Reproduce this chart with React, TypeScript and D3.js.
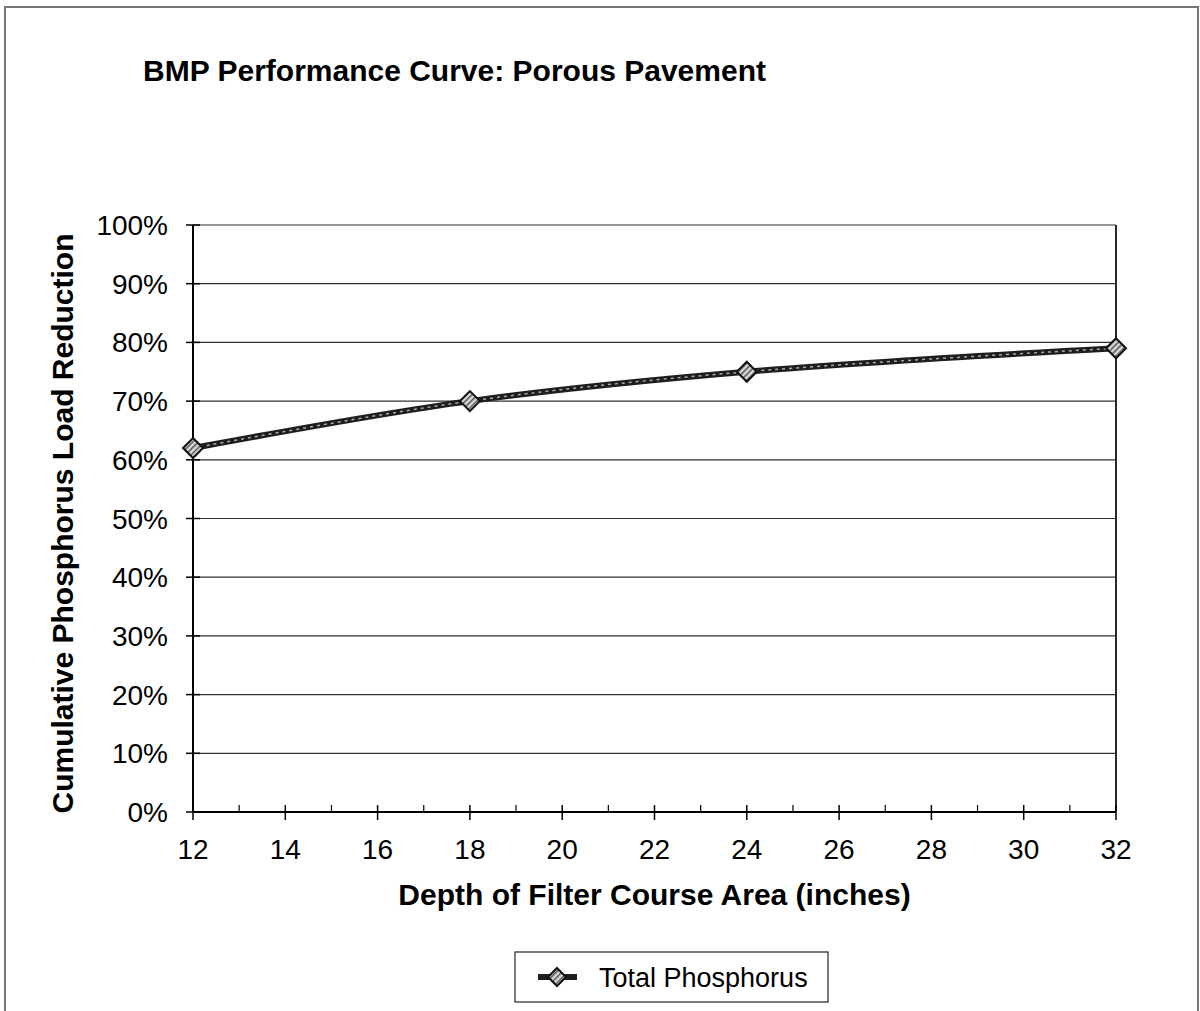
import { scaleLinear, line as d3Line, curveCatmullRom, range } from "d3";

const depths = [12, 18, 24, 32];
const phosphorus = [0.62, 0.7, 0.75, 0.79];
const xTicks = [12, 14, 16, 18, 20, 22, 24, 26, 28, 30, 32];
const yTicks = [0, 0.1, 0.2, 0.3, 0.4, 0.5, 0.6, 0.7, 0.8, 0.9, 1.0];

const title = "BMP Performance Curve: Porous Pavement";
const xTitle = "Depth of Filter Course Area (inches)";
const yTitle = "Cumulative Phosphorus Load Reduction";
const seriesName = "Total Phosphorus";

const W = 1200;
const H = 1011;
const left = 193;
const right = 1116;
const top = 225;
const bottom = 812;

const font = "Arial, 'Liberation Sans', Helvetica, sans-serif";

function Diamond({ cx, cy, r = 10 }: { cx: number; cy: number; r?: number }) {
  const d = `M${cx},${cy - r}L${cx + r},${cy}L${cx},${cy + r}L${cx - r},${cy}Z`;
  return <path d={d} fill="url(#hatch)" stroke="#111" strokeWidth={2} />;
}

export default function App() {
  const x = scaleLinear().domain([12, 32]).range([left, right]);
  const y = scaleLinear().domain([0, 1]).range([bottom, top]);

  const pts = depths.map((d, i) => [d, phosphorus[i]] as [number, number]);
  const line = d3Line<[number, number]>()
    .x((d) => x(d[0]))
    .y((d) => y(d[1]))
    .curve(curveCatmullRom.alpha(0.5));

  const minor = range(13, 32, 2);

  return (
    <svg
      width={W}
      height={H}
      style={{ position: "absolute", left: 0, top: 0, background: "#fff" }}
      fontFamily={font}
    >
      <defs>
        <pattern id="hatch" width="4" height="4" patternUnits="userSpaceOnUse" patternTransform="rotate(45)">
          <rect width="4" height="4" fill="#d8d8d8" />
          <rect width="1.5" height="4" fill="#555" />
        </pattern>
      </defs>

      {/* outer chart frame */}
      <path d={`M5,${H}V7H1198V${H}`} fill="none" stroke="#777" strokeWidth={2} />

      <text x={143} y={81} fontSize={30} fontWeight="bold" fill="#000">
        {title}
      </text>

      {/* gridlines */}
      {yTicks.slice(1).map((t) => (
        <line key={t} x1={left} x2={right} y1={y(t)} y2={y(t)} stroke="#333" strokeWidth={1.2} />
      ))}
      {/* right border */}
      <line x1={right} x2={right} y1={top} y2={bottom} stroke="#111" strokeWidth={1.8} />

      {/* y axis */}
      <line x1={left} x2={left} y1={top} y2={bottom} stroke="#000" strokeWidth={2} />
      {yTicks.map((t) => (
        <g key={t}>
          <line x1={left - 7} x2={left + 7} y1={y(t)} y2={y(t)} stroke="#000" strokeWidth={1.5} />
          <text x={168} y={y(t) + 10} textAnchor="end" fontSize={28} fill="#000">
            {Math.round(t * 100)}%
          </text>
        </g>
      ))}

      {/* x axis */}
      <line x1={left} x2={right} y1={bottom} y2={bottom} stroke="#000" strokeWidth={2} />
      {xTicks.map((t) => (
        <g key={t}>
          <line x1={x(t)} x2={x(t)} y1={bottom - 7} y2={bottom + 8} stroke="#000" strokeWidth={1.5} />
          <text x={x(t)} y={859} textAnchor="middle" fontSize={28} fill="#000">
            {t}
          </text>
        </g>
      ))}
      {minor.map((t) => (
        <line key={t} x1={x(t)} x2={x(t)} y1={bottom - 7} y2={bottom} stroke="#000" strokeWidth={1.2} />
      ))}

      {/* series */}
      <path d={line(pts)!} fill="none" stroke="#1e1e1e" strokeWidth={6} strokeLinecap="round" />
      <path d={line(pts)!} fill="none" stroke="#aaa" strokeWidth={1.5} strokeDasharray="3 4" />
      {pts.map((p) => (
        <Diamond key={p[0]} cx={x(p[0])} cy={y(p[1])} />
      ))}

      <text x={(left + right) / 2} y={905} textAnchor="middle" fontSize={30} fontWeight="bold" fill="#000">
        {xTitle}
      </text>

      <text
        transform={`translate(73,${(top + bottom) / 2 + 5}) rotate(-90)`}
        textAnchor="middle"
        fontSize={30}
        fontWeight="bold"
        fill="#000"
      >
        {yTitle}
      </text>

      {/* legend */}
      <rect x={515} y={952} width={313} height={50} fill="#fff" stroke="#222" strokeWidth={1.2} />
      <line x1={538} x2={577} y1={977} y2={977} stroke="#1e1e1e" strokeWidth={6} />
      <Diamond cx={557} cy={977} r={9} />
      <text x={599} y={987} fontSize={27} fill="#000">
        {seriesName}
      </text>
    </svg>
  );
}
